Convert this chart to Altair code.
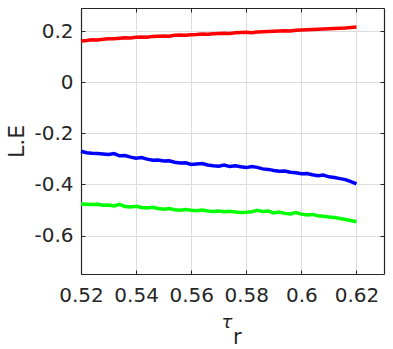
import altair as alt
import pandas as pd

tau = [0.520, 0.522, 0.524, 0.526, 0.528, 0.530, 0.532, 0.534, 0.536, 0.538,
       0.540, 0.542, 0.544, 0.546, 0.548, 0.550, 0.552, 0.554, 0.556, 0.558,
       0.560, 0.562, 0.564, 0.566, 0.568, 0.570, 0.572, 0.574, 0.576, 0.578,
       0.580, 0.582, 0.584, 0.586, 0.588, 0.590, 0.592, 0.594, 0.596, 0.598,
       0.600, 0.602, 0.604, 0.606, 0.608, 0.610, 0.612, 0.614, 0.616, 0.618,
       0.620]

red = [0.161, 0.163, 0.166, 0.165, 0.168, 0.170, 0.170, 0.172, 0.174, 0.173,
       0.176, 0.177, 0.176, 0.179, 0.180, 0.181, 0.180, 0.183, 0.184, 0.183,
       0.185, 0.186, 0.188, 0.187, 0.189, 0.190, 0.191, 0.190, 0.193, 0.194,
       0.195, 0.193, 0.196, 0.197, 0.198, 0.199, 0.200, 0.201, 0.200, 0.203,
       0.204, 0.205, 0.206, 0.207, 0.208, 0.209, 0.210, 0.211, 0.212, 0.214,
       0.216]

blue = [-0.270, -0.276, -0.278, -0.279, -0.281, -0.283, -0.279, -0.288, -0.287, -0.293,
        -0.297, -0.295, -0.301, -0.305, -0.304, -0.308, -0.307, -0.313, -0.316, -0.315,
        -0.322, -0.320, -0.318, -0.324, -0.327, -0.329, -0.324, -0.330, -0.327, -0.331,
        -0.334, -0.330, -0.333, -0.339, -0.341, -0.345, -0.348, -0.347, -0.352, -0.354,
        -0.358, -0.357, -0.362, -0.366, -0.363, -0.370, -0.373, -0.377, -0.381, -0.389,
        -0.398]

green = [-0.476, -0.477, -0.478, -0.477, -0.481, -0.480, -0.484, -0.478, -0.486, -0.488,
         -0.485, -0.490, -0.492, -0.489, -0.494, -0.497, -0.494, -0.499, -0.501, -0.498,
         -0.501, -0.503, -0.500, -0.504, -0.506, -0.504, -0.507, -0.505, -0.508, -0.510,
         -0.509, -0.507, -0.501, -0.506, -0.504, -0.511, -0.508, -0.513, -0.515, -0.510,
         -0.516, -0.519, -0.517, -0.522, -0.524, -0.527, -0.529, -0.533, -0.537, -0.541,
         -0.546]

x_ticks = [0.52, 0.54, 0.56, 0.58, 0.60, 0.62]
y_ticks = [-0.6, -0.4, -0.2, 0, 0.2]
series_names = ["red", "blue", "green"]
series_colors = ["#ff0000", "#0000ff", "#00ff00"]

rows = []
for name, vals in zip(series_names, [red, blue, green]):
    for t, v in zip(tau, vals):
        rows.append({"tau": t, "le": v, "s": name})
df = pd.DataFrame(rows)

FONT = "DejaVu Sans"
TXT = "#262626"
xs = alt.Scale(domain=[0.52, 0.63], nice=False, zero=False)
ys = alt.Scale(domain=[-0.75, 0.29], nice=False, zero=False)
lab = "datum.value + ''"

main = alt.Chart(df).mark_line(strokeWidth=3.5).encode(
    x=alt.X("tau:Q", scale=xs, axis=alt.Axis(
        orient="bottom", values=x_ticks, labelExpr=lab, title=None,
        ticks=False, tickSize=0, domain=True, domainColor=TXT, domainWidth=1.2,
        grid=True, gridColor="#dcdcdc",
        labelFont=FONT, labelFontSize=20, labelColor=TXT, labelPadding=11,
        labelFlush=False)),
    y=alt.Y("le:Q", scale=ys, axis=alt.Axis(
        orient="left", values=y_ticks, labelExpr=lab, title="L.E",
        ticks=False, tickSize=0, domain=True, domainColor=TXT, domainWidth=1.2,
        grid=True, gridColor="#dcdcdc",
        labelFont=FONT, labelFontSize=20, labelColor=TXT, labelPadding=8,
        titleFont=FONT, titleFontSize=22, titleColor=TXT, titleFontWeight="normal",
        titleX=-58, titleBaseline="alphabetic", labelFlush=False)),
    color=alt.Color("s:N", scale=alt.Scale(domain=series_names, range=series_colors), legend=None),
    detail="s:N",
)

def tick_axis(orient, vals):
    return alt.Axis(orient=orient, values=vals, labels=False, title=None, grid=False,
                    domain=False, ticks=True, tickSize=4, tickColor=TXT, tickWidth=1,
                    offset=-4)

def frame_axis(orient):
    return alt.Axis(orient=orient, labels=False, title=None, grid=False, ticks=False,
                    tickSize=0, domain=True, domainColor=TXT, domainWidth=1.2, offset=0)

ticks1 = alt.Chart(df).mark_line(opacity=0).encode(
    x=alt.X("tau:Q", scale=xs, axis=tick_axis("bottom", x_ticks)),
    y=alt.Y("le:Q", scale=ys, axis=tick_axis("left", y_ticks)),
    detail="s:N",
)
ticks2 = alt.Chart(df).mark_line(opacity=0).encode(
    x=alt.X("tau:Q", scale=xs, axis=tick_axis("top", x_ticks)),
    y=alt.Y("le:Q", scale=ys, axis=tick_axis("right", y_ticks)),
    detail="s:N",
)
frame = alt.Chart(df).mark_line(opacity=0).encode(
    x=alt.X("tau:Q", scale=xs, axis=frame_axis("top")),
    y=alt.Y("le:Q", scale=ys, axis=frame_axis("right")),
    detail="s:N",
)

tau_lbl = alt.Chart(pd.DataFrame({"k": [0]})).mark_text(
    text="τ", font=FONT, fontSize=18, fontStyle="italic", color=TXT,
    align="center", baseline="alphabetic"
).encode(x=alt.value(146), y=alt.value(320))
r_lbl = alt.Chart(pd.DataFrame({"k": [0]})).mark_text(
    text="r", font=FONT, fontSize=21, color=TXT, align="left", baseline="alphabetic"
).encode(x=alt.value(152), y=alt.value(336))

chart = alt.layer(main, ticks1, ticks2, frame, tau_lbl, r_lbl).resolve_axis(
    x="independent", y="independent"
).properties(
    width=303, height=266,
    autosize=alt.AutoSizeParams(type="none"),
    padding={"left": 81, "top": 8, "right": 9, "bottom": 75},
).configure_view(stroke=TXT, strokeWidth=1.2).configure(background="white")

chart.save("out.html", embed_options={"renderer": "svg", "actions": False})
